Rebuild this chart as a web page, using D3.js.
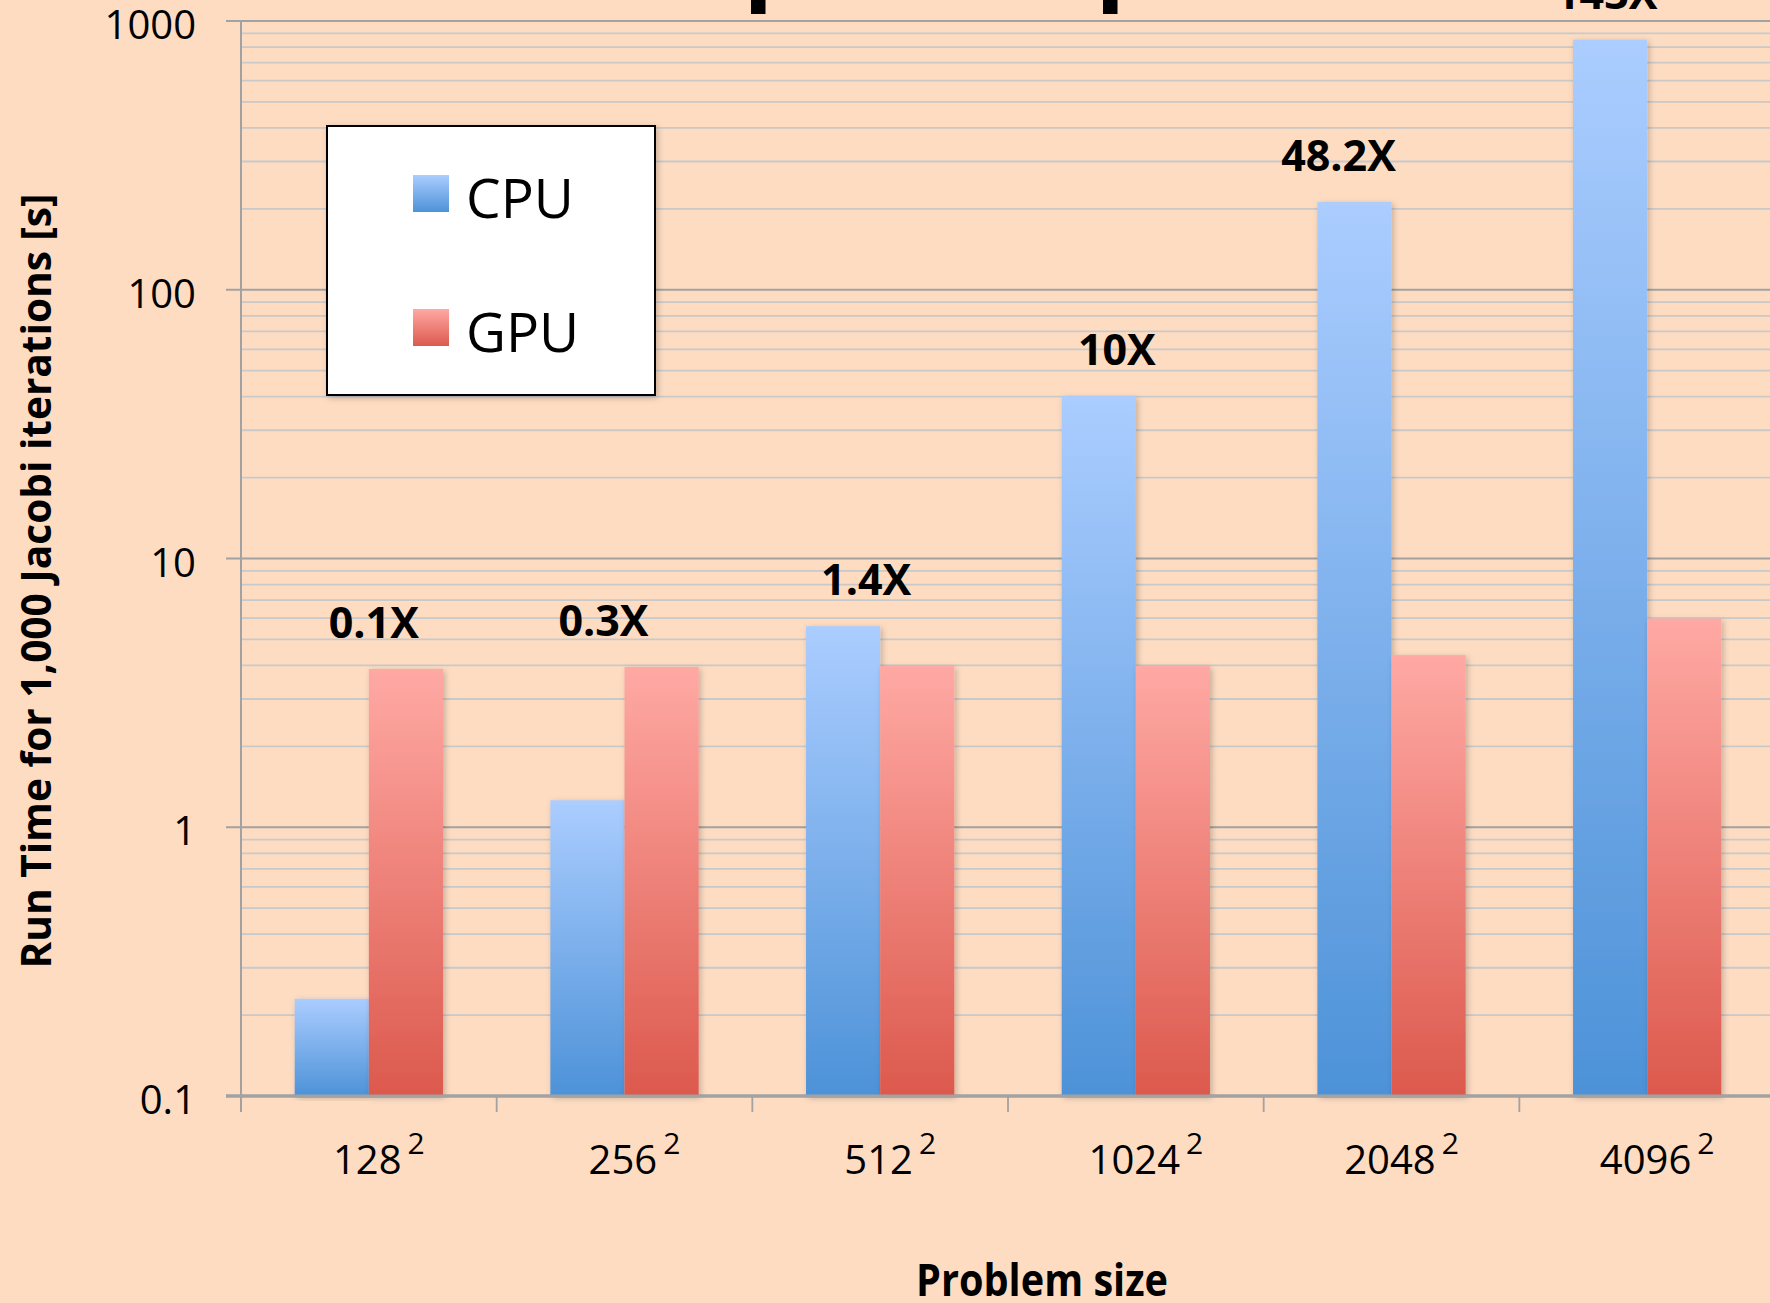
<!DOCTYPE html>
<html>
<head>
<meta charset="utf-8">
<script src="https://cdn.jsdelivr.net/npm/d3@7"></script>
<style>
  html, body { margin: 0; padding: 0; background: #fddcc2; overflow: hidden; }
  text { font-family: "Open Sans", "DejaVu Sans", sans-serif; fill: #000; }
</style>
</head>
<body>
<div id="chart"></div>
<script>
// --- CONFIG ---
const width = 1770;
const height = 1303;

// --- DATA ---
const sizes = ["128", "256", "512", "1024", "2048", "4096"];
const seriesNames = ["CPU", "GPU"];
const cpuTimes = [0.23, 1.26, 5.6, 40.2, 212, 853];
const gpuTimes = [3.88, 3.95, 3.98, 3.98, 4.37, 5.98];
const speedups = ["0.1X", "0.3X", "1.4X", "10X", "48.2X", "143X"];
const yTickValues = [0.1, 1, 10, 100, 1000];

// small hand nudges of the speedup labels (they were placed by hand in the original)
const labelNudge = [5, -21, -14, -19, -53, -41];

const rows = sizes.map((s, i) => ({ size: s, CPU: cpuTimes[i], GPU: gpuTimes[i], label: speedups[i] }));

const svg = d3.select("#chart")
  .append("svg")
  .attr("width", width)
  .attr("height", height);

svg.append("rect")
  .attr("width", width)
  .attr("height", height)
  .attr("fill", "#fddcc2");

// gradients + soft shadow
const defs = svg.append("defs");
const grads = { CPU: ["#abcdff", "#4d92d8"], GPU: ["#ffa9a4", "#dc594d"] };
Object.entries(grads).forEach(([name, [top, bottom]]) => {
  const g = defs.append("linearGradient")
    .attr("id", "grad" + name)
    .attr("x1", 0).attr("y1", 0).attr("x2", 0).attr("y2", 1);
  g.append("stop").attr("offset", "0%").attr("stop-color", top);
  g.append("stop").attr("offset", "100%").attr("stop-color", bottom);
});
defs.append("filter")
  .attr("id", "shadow")
  .attr("x", "-20%").attr("y", "-5%").attr("width", "140%").attr("height", "110%")
  .append("feDropShadow")
  .attr("dx", 2).attr("dy", 2).attr("stdDeviation", 3)
  .attr("flood-color", "#000").attr("flood-opacity", 0.22);

// --- SCALES ---
const plotLeft = 241;
const step = 255.67;
const x0 = d3.scaleBand()
  .domain(sizes)
  .range([plotLeft, plotLeft + step * sizes.length])
  .paddingInner(0.42)
  .paddingOuter(0.21);

const x1 = d3.scaleBand()
  .domain(seriesNames)
  .range([0, x0.bandwidth()]);

const y = d3.scaleLog()
  .domain([0.1, 1000])
  .range([1096, 21]);

// --- GRID ---
const allTicks = y.ticks();
const isMajor = v => Math.abs(Math.log10(v) - Math.round(Math.log10(v))) < 1e-9;

svg.append("g")
  .selectAll("line")
  .data(allTicks.filter(v => !isMajor(v)))
  .join("line")
  .attr("x1", plotLeft).attr("x2", width)
  .attr("y1", d => y(d)).attr("y2", d => y(d))
  .attr("stroke", "#c9c9c9")
  .attr("stroke-width", 1.8);

svg.append("g")
  .selectAll("line")
  .data(yTickValues)
  .join("line")
  .attr("x1", 226).attr("x2", width)
  .attr("y1", d => y(d)).attr("y2", d => y(d))
  .attr("stroke", "#a2a2a2")
  .attr("stroke-width", d => d === 0.1 ? 3 : 2);

// y axis line
svg.append("line")
  .attr("x1", plotLeft).attr("x2", plotLeft)
  .attr("y1", y(1000)).attr("y2", y(0.1) + 16)
  .attr("stroke", "#a2a2a2")
  .attr("stroke-width", 2);

// x axis ticks between categories
svg.append("g")
  .selectAll("line")
  .data(sizes)
  .join("line")
  .attr("x1", d => x0(d) - step * 0.21)
  .attr("x2", d => x0(d) - step * 0.21)
  .attr("y1", y(0.1)).attr("y2", y(0.1) + 16)
  .attr("stroke", "#a2a2a2")
  .attr("stroke-width", 1.8);

// --- BARS ---
const groups = svg.append("g")
  .selectAll("g")
  .data(rows)
  .join("g")
  .attr("transform", d => `translate(${x0(d.size)},0)`);

groups.selectAll("rect")
  .data(d => seriesNames.map(k => ({ key: k, value: d[k] })))
  .join("rect")
  .attr("x", d => x1(d.key))
  .attr("width", x1.bandwidth())
  .attr("y", d => y(d.value))
  .attr("height", d => y(0.1) - y(d.value))
  .attr("fill", d => `url(#grad${d.key})`)
  .attr("filter", "url(#shadow)");

// axis line on top of the bars
svg.append("line")
  .attr("x1", 226).attr("x2", width)
  .attr("y1", y(0.1)).attr("y2", y(0.1))
  .attr("stroke", "#a2a2a2")
  .attr("stroke-width", 3);

// speedup labels
svg.append("g")
  .selectAll("text")
  .data(rows)
  .join("text")
  .attr("x", (d, i) => x0(d.size) + x0.bandwidth() / 2 + labelNudge[i])
  .attr("y", d => y(Math.max(d.CPU, d.GPU)) - 31)
  .attr("text-anchor", "middle")
  .attr("font-size", 43)
  .attr("font-weight", "bold")
  .text(d => d.label);

// --- AXIS LABELS ---
svg.append("g")
  .selectAll("text")
  .data(yTickValues)
  .join("text")
  .attr("x", 196)
  .attr("y", d => y(d) + 18)
  .attr("text-anchor", "end")
  .attr("font-size", 40)
  .text(d => d3.format("~g")(d));

const xLabels = svg.append("g")
  .selectAll("text")
  .data(sizes)
  .join("text")
  .attr("x", d => x0(d) + x0.bandwidth() / 2 + 10)
  .attr("y", 1174)
  .attr("text-anchor", "middle")
  .attr("font-size", 40);
xLabels.append("tspan").text(d => d);
xLabels.append("tspan")
  .attr("dx", 6)
  .attr("dy", -20)
  .attr("font-size", 30)
  .text("2");

svg.append("text")
  .attr("transform", "translate(51,581) rotate(-90)")
  .attr("text-anchor", "middle")
  .attr("font-size", 41)
  .attr("font-weight", "bold")
  .attr("textLength", 775)
  .attr("lengthAdjust", "spacingAndGlyphs")
  .text("Run Time for 1,000 Jacobi iterations [s]");

svg.append("text")
  .attr("x", 1042)
  .attr("y", 1296)
  .attr("text-anchor", "middle")
  .attr("font-size", 44)
  .attr("font-weight", "bold")
  .attr("textLength", 252)
  .attr("lengthAdjust", "spacingAndGlyphs")
  .text("Problem size");

// bits of the cut-off title above the plot
svg.append("g")
  .selectAll("rect")
  .data([751, 1103])
  .join("rect")
  .attr("x", d => d).attr("y", 0)
  .attr("width", 14.5).attr("height", 14)
  .attr("fill", "#000");

// --- LEGEND ---
const legend = svg.append("g");
legend.append("rect")
  .attr("x", 327).attr("y", 126)
  .attr("width", 328).attr("height", 269)
  .attr("fill", "#fff")
  .attr("stroke", "#000")
  .attr("stroke-width", 2)
  .attr("filter", "url(#shadow)");

const legendItems = legend.selectAll("g")
  .data(seriesNames)
  .join("g")
  .attr("transform", (d, i) => `translate(413,${175 + i * 134})`);
legendItems.append("rect")
  .attr("width", 36).attr("height", 37)
  .attr("fill", d => `url(#grad${d})`);
legendItems.append("text")
  .attr("x", 53)
  .attr("y", 43)
  .attr("font-size", 55)
  .text(d => d);
</script>
</body>
</html>
